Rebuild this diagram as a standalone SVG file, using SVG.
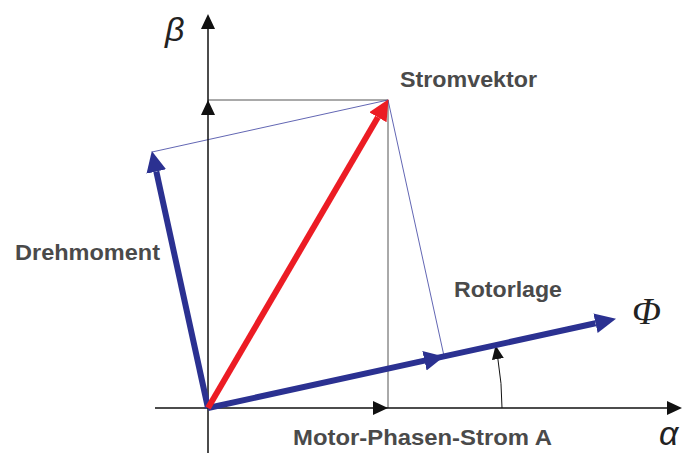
<svg xmlns="http://www.w3.org/2000/svg" width="692" height="453" viewBox="0 0 692 453">
<style>
.lbl{font-family:"Liberation Sans",Arial,sans-serif;font-weight:bold;font-size:22px;fill:#4a4a4a}
.sym{font-family:"Liberation Sans",Arial,sans-serif;font-style:italic;fill:#222}
.phi{font-family:"Liberation Serif","Times New Roman",serif;font-style:italic;fill:#222}
.axis{stroke:#111;stroke-width:1.5;fill:none}
.thin{stroke:#555;stroke-width:1;fill:none}
.thinb{stroke:#3a3fa0;stroke-width:0.8;fill:none}
.vec{stroke-width:6;fill:none;stroke-linecap:butt}
</style>
<defs>
<marker id="ab" markerUnits="userSpaceOnUse" markerWidth="16" markerHeight="16" refX="0" refY="7" orient="auto"><path d="M0,0 L15,7 L0,14 Z" fill="#111"/></marker>
<marker id="abm" markerUnits="userSpaceOnUse" markerWidth="16" markerHeight="16" refX="15" refY="7" orient="auto"><path d="M0,0 L15,7 L0,14 Z" fill="#111"/></marker>
<marker id="aarc" markerUnits="userSpaceOnUse" markerWidth="16" markerHeight="14" refX="0" refY="6" orient="auto"><path d="M0,0 L14,6 L0,12 Z" fill="#111"/></marker>
<marker id="hb" markerUnits="userSpaceOnUse" markerWidth="22" markerHeight="22" refX="0" refY="10" orient="auto"><path d="M0,0 L21,10 L0,20 Z" fill="#2b3191"/></marker>
<marker id="hbm" markerUnits="userSpaceOnUse" markerWidth="22" markerHeight="22" refX="20" refY="10" orient="auto"><path d="M0,0 L20,10 L0,20 Z" fill="#2b3191"/></marker>
<marker id="hr" markerUnits="userSpaceOnUse" markerWidth="22" markerHeight="22" refX="0" refY="10" orient="auto"><path d="M0,0 L21,10 L0,20 Z" fill="#ec1c24"/></marker>
</defs>
<rect width="692" height="453" fill="#fff"/>
<g id="connectors">
<line class="thin" x1="208" y1="100" x2="388" y2="100"/>
<line class="thin" x1="388" y1="100" x2="388" y2="408"/>
<line class="thinb" x1="152" y1="152" x2="388" y2="100"/>
<line class="thinb" x1="388" y1="100" x2="444" y2="356"/>
<path class="axis" d="M208,455 L208,100 L208,29" marker-mid="url(#abm)" marker-end="url(#ab)"/>
<path class="axis" d="M155,408 L388,408 L667,408" marker-mid="url(#abm)" marker-end="url(#ab)"/>
<path d="M502,408 A294,294 0 0 0 497.9,359" stroke="#111" stroke-width="1" fill="none" marker-end="url(#aarc)"/>
</g>
<g id="phi-vector">
<path class="vec" stroke="#2b3191" d="M208,408 L444,356.4 L595.5,323.3" marker-mid="url(#hbm)" marker-end="url(#hb)"/>
</g>
<g id="drehmoment-vector">
<path class="vec" stroke="#2b3191" d="M208,408 L156.3,171.5" marker-end="url(#hb)"/>
</g>
<g id="strom-vector">
<path class="vec" stroke="#ec1c24" d="M208,408 L377.9,117.3" marker-end="url(#hr)"/>
</g>
<g id="labels">
<text class="sym" x="165" y="41" font-size="34">β</text>
<text class="sym" x="659" y="445" font-size="34">α</text>
<text class="phi" x="632" y="324" font-size="38">Φ</text>
<text class="lbl" x="400" y="87" textLength="137" lengthAdjust="spacingAndGlyphs">Stromvektor</text>
<text class="lbl" x="15" y="260" textLength="145" lengthAdjust="spacingAndGlyphs">Drehmoment</text>
<text class="lbl" x="454" y="297" textLength="108" lengthAdjust="spacingAndGlyphs">Rotorlage</text>
<text class="lbl" x="293" y="445" textLength="259" lengthAdjust="spacingAndGlyphs">Motor-Phasen-Strom A</text>
</g>
</svg>
